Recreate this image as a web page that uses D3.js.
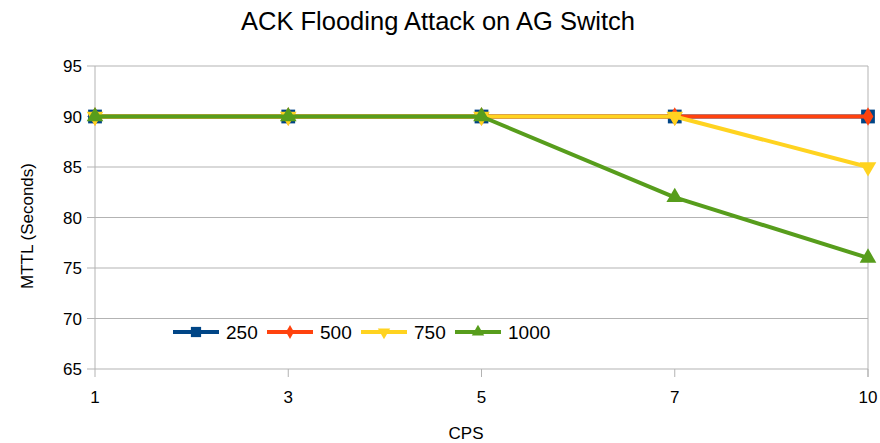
<!DOCTYPE html>
<html>
<head>
<meta charset="utf-8">
<script src="https://cdn.jsdelivr.net/npm/d3@7"></script>
<style>
  body { margin: 0; background: #fff; }
  text { font-family: "Liberation Sans", Arial, sans-serif; fill: #000; }
</style>
</head>
<body>
<div class="svg_container"></div>
<script>
const WIDTH = 880;
const HEIGHT = 443;

var categories = ["1", "3", "5", "7", "10"];
var seriesNames = ["250", "500", "750", "1000"];
var values250 = [90, 90, 90, 90, 90];
var values500 = [90, 90, 90, 90, 90];
var values750 = [90, 90, 90, 90, 85];
var values1000 = [90, 90, 90, 82, 76];
var yTicks = [65, 70, 75, 80, 85, 90, 95];

var colors = ["#004586", "#ff420e", "#ffd320", "#579d1c"];
var symbols = [d3.symbolSquare, d3.symbolDiamond, d3.symbolTriangle, d3.symbolTriangle];
var rotations = [0, 0, 180, 0];
var sizes = [190, 100, 120, 120];

var series = [values250, values500, values750, values1000];

var translate = function (x, y) {
  return "translate(" + x + "," + y + ")";
};

const PLOT_LEFT = 95, PLOT_RIGHT = 868, PLOT_TOP = 66, PLOT_BOTTOM = 369;

var xScale = d3.scalePoint().domain(categories).range([PLOT_LEFT, PLOT_RIGHT]);
var yScale = d3.scaleLinear().domain([65, 95]).range([PLOT_BOTTOM, PLOT_TOP]);

var svg = d3.select('.svg_container').append('svg')
  .attr('width', WIDTH)
  .attr('height', HEIGHT);

// grid lines
svg.append('g').selectAll('line')
  .data(yTicks).enter().append('line')
  .attr('x1', PLOT_LEFT - 8).attr('x2', PLOT_RIGHT)
  .attr('y1', d => yScale(d)).attr('y2', d => yScale(d))
  .attr('stroke', '#b3b3b3').attr('stroke-width', 1);

// left and right borders
svg.append('line').attr('x1', PLOT_LEFT).attr('x2', PLOT_LEFT)
  .attr('y1', PLOT_TOP).attr('y2', PLOT_BOTTOM).attr('stroke', '#b3b3b3');
svg.append('line').attr('x1', PLOT_RIGHT).attr('x2', PLOT_RIGHT)
  .attr('y1', PLOT_TOP).attr('y2', PLOT_BOTTOM + 8).attr('stroke', '#b3b3b3');

// x ticks
svg.append('g').selectAll('line')
  .data(categories).enter().append('line')
  .attr('x1', d => xScale(d)).attr('x2', d => xScale(d))
  .attr('y1', PLOT_BOTTOM).attr('y2', PLOT_BOTTOM + 8)
  .attr('stroke', '#b3b3b3');

svg.append('g').selectAll('text')
  .data(categories).enter().append('text')
  .attr('x', d => xScale(d)).attr('y', PLOT_BOTTOM + 34)
  .attr('text-anchor', 'middle')
  .style('font-size', '17px')
  .text(d => d);

svg.append('g').selectAll('text')
  .data(yTicks).enter().append('text')
  .attr('x', PLOT_LEFT - 13).attr('y', d => yScale(d) + 6)
  .attr('text-anchor', 'end')
  .style('font-size', '17px')
  .text(d => d);

// series
var line = d3.line()
  .x((d, i) => xScale(categories[i]))
  .y(d => yScale(d));

series.forEach(function (vals, s) {
  svg.append('path')
    .attr('d', line(vals))
    .attr('fill', 'none')
    .attr('stroke', colors[s])
    .attr('stroke-width', 4)
    .attr('stroke-linejoin', 'round');
  svg.append('g').selectAll('path')
    .data(vals).enter().append('path')
    .attr('d', d3.symbol().type(symbols[s]).size(sizes[s]))
    .attr('transform', (d, i) => translate(xScale(categories[i]), yScale(d)) + " rotate(" + rotations[s] + ")")
    .attr('fill', colors[s]);
});

// legend
var legendX = [173, 267, 361, 455];
var legendY = 332;
seriesNames.forEach(function (name, s) {
  var g = svg.append('g').attr('transform', translate(legendX[s], legendY));
  g.append('line').attr('x1', 0).attr('x2', 46)
    .attr('stroke', colors[s]).attr('stroke-width', 4);
  g.append('path')
    .attr('d', d3.symbol().type(symbols[s]).size(sizes[s] * 0.55))
    .attr('transform', translate(23, 0) + " rotate(" + rotations[s] + ")")
    .attr('fill', colors[s]);
  g.append('text').attr('x', 53).attr('y', 7)
    .style('font-size', '19px')
    .text(name);
});

// titles
svg.append('text').attr('x', 438).attr('y', 30)
  .attr('text-anchor', 'middle')
  .style('font-size', '25.5px')
  .text('ACK Flooding Attack on AG Switch');

svg.append('text').attr('x', 466).attr('y', 439)
  .attr('text-anchor', 'middle')
  .style('font-size', '17px')
  .text('CPS');

svg.append('text')
  .attr('transform', translate(33, 226) + " rotate(-90)")
  .attr('text-anchor', 'middle')
  .style('font-size', '17px')
  .text('MTTL (Seconds)');
</script>
</body>
</html>
